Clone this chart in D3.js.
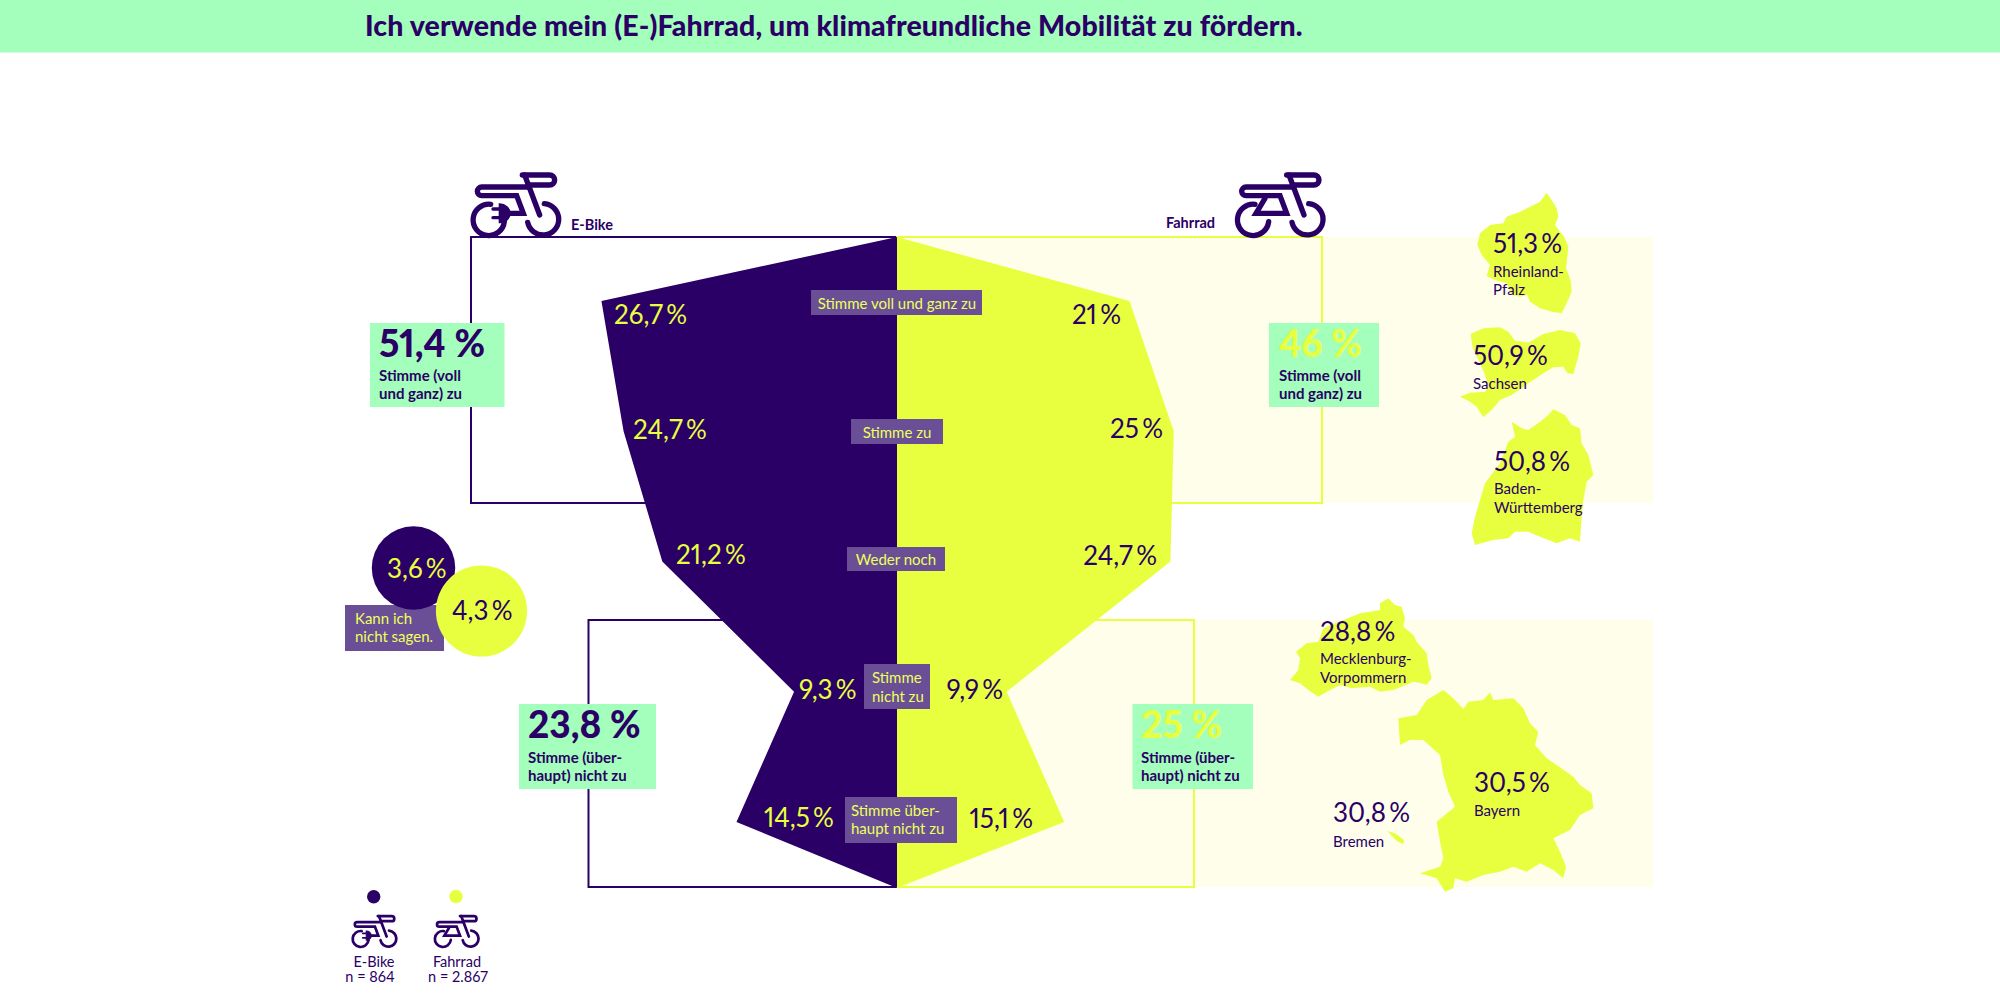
<!DOCTYPE html>
<html lang="de"><head><meta charset="utf-8">
<script src="https://cdn.jsdelivr.net/npm/d3@7"></script>
<style>html,body{margin:0;padding:0;background:#fff}svg{display:block}text{font-family:Lato,sans-serif;font-variant-numeric:proportional-nums;font-feature-settings:"pnum" 1}</style>
</head><body><div id="c"></div>
<script>
const titleText = "Ich verwende mein (E-)Fahrrad, um klimafreundliche Mobilität zu fördern.";
const categories = ["Stimme voll und ganz zu","Stimme zu","Weder noch","Stimme nicht zu","Stimme überhaupt nicht zu"];
const ebikeValues = [26.7,24.7,21.2,9.3,14.5];
const fahrradValues = [21,25,24.7,9.9,15.1];
const ebikeDontKnow = 3.6, fahrradDontKnow = 4.3;
const summaryAgree = [51.4,46], summaryDisagree = [23.8,25];
const nLabels = ["n = 864","n = 2.867"];

const DARK="#2a0066",YEL="#e8ff40",GREEN="#a3ffbb",PURPLE="#6a4f96",PALE="#fefeea",LBL="#eeff5c";
const svg=d3.select("#c").append("svg").attr("width",2000).attr("height",1000);
const fmt=v=>String(v).replace(".",",")+"\u2009%";
const xL=d3.scaleLinear().domain([0,30]).range([897,897-30*11.07]);
const xR=d3.scaleLinear().domain([0,30]).range([897,897+30*11.07]);
const y=d3.scaleLinear().domain([0,4]).range([301,822]);
const yTop=237,yBot=888;

function text(g,s,x,yy,o={}){
  return g.append("text").attr("x",x).attr("y",yy).text(s)
   .attr("fill",o.fill||DARK).attr("font-size",o.size||26).attr("font-weight",o.weight||400)
   .attr("text-anchor",o.anchor||"start").attr("letter-spacing",o.ls||null);
}
// header
svg.append("rect").attr("width",2000).attr("height",52.5).attr("fill",GREEN);
text(svg,titleText,365,36,{size:28.5,weight:900,ls:0.11});

// pale backgrounds and brackets
svg.append("rect").attr("x",897).attr("y",237).attr("width",756).attr("height",266).attr("fill",PALE);
svg.append("rect").attr("x",897).attr("y",620).attr("width",756).attr("height",267).attr("fill",PALE);
svg.append("rect").attr("x",471).attr("y",237).attr("width",426).attr("height",266).attr("fill","none").attr("stroke",DARK).attr("stroke-width",2);
svg.append("rect").attr("x",588.5).attr("y",620).attr("width",308).attr("height",267).attr("fill","none").attr("stroke",DARK).attr("stroke-width",2);
svg.append("rect").attr("x",897).attr("y",237).attr("width",425).attr("height",266).attr("fill","none").attr("stroke",YEL).attr("stroke-width",2);
svg.append("rect").attr("x",897).attr("y",620).attr("width",297).attr("height",267).attr("fill","none").attr("stroke",YEL).attr("stroke-width",2);

// silhouettes (outline points in crop coordinates, 3 units per pixel)
const shapeRLP=[[320,38],[335,60],[350,85],[355,110],[345,135],[372,170],[385,200],[382,230],[378,265],[392,300],[395,335],[380,370],[365,400],[335,395],[300,385],[270,365],[262,345],[240,350],[215,345],[200,310],[165,300],[140,288],[150,255],[125,225],[112,195],[120,160],[150,135],[190,130],[200,110],[240,95],[270,80],[300,65]];
const shapeSN=[[62,42],[100,25],[150,22],[175,35],[195,62],[235,68],[280,42],[330,30],[375,40],[392,70],[385,110],[370,162],[352,160],[340,140],[310,142],[280,160],[235,190],[185,225],[150,240],[130,265],[100,292],[80,260],[60,245],[30,230],[60,218],[105,215],[115,200],[105,165],[90,130],[68,85]];
const shapeBW=[[340,28],[375,45],[395,75],[420,85],[425,130],[445,165],[460,225],[440,245],[430,300],[425,350],[420,425],[390,415],[350,430],[300,410],[265,395],[225,395],[205,415],[160,420],[105,435],[95,400],[105,350],[120,300],[135,250],[180,190],[205,125],[225,110],[215,65],[245,85],[265,90],[300,65],[325,45]];
const shapeMV=[[325,40],[345,60],[365,65],[375,100],[370,125],[400,150],[410,170],[440,205],[445,240],[455,280],[440,300],[425,295],[400,290],[340,315],[300,320],[270,305],[215,310],[180,300],[150,315],[115,335],[85,315],[60,295],[30,285],[55,255],[60,220],[48,200],[80,175],[115,170],[130,130],[190,105],[240,85],[300,75],[300,55]];
const shapeBY=[[490,315],[520,340],[550,372],[565,350],[610,345],[630,322],[640,345],[700,340],[730,370],[750,415],[775,440],[765,480],[800,520],[830,540],[880,575],[900,600],[935,625],[940,670],[900,690],[870,735],[820,760],[840,800],[858,845],[850,880],[820,855],[780,835],[740,860],[700,845],[660,860],[610,870],[560,890],[525,880],[520,910],[495,920],[470,880],[420,865],[480,845],[490,820],[480,770],[470,710],[525,665],[505,620],[490,570],[480,510],[430,465],[390,465],[360,480],[355,400],[410,390],[440,345]];
const shapeHB=[[322,738],[345,745],[372,765],[370,778],[350,768]];
const states=[
 {pts:shapeRLP,o:[1440,180]},{pts:shapeSN,o:[1450,320]},{pts:shapeBW,o:[1440,400]},
 {pts:shapeMV,o:[1280,585]},{pts:shapeBY,o:[1280,585]},{pts:shapeHB,o:[1280,585]}];
const outline=d3.line().curve(d3.curveLinearClosed);
svg.selectAll("path.state").data(states).join("path").attr("class","state")
 .attr("transform",d=>`translate(${d.o[0]},${d.o[1]}) scale(${1/3})`)
 .attr("d",d=>outline(d.pts)).attr("fill",YEL);

// main polygons
const polyL=[[xL(0),yTop],...ebikeValues.map((v,i)=>[xL(v),y(i)]),[xL(0),yBot]];
const polyR=[[xR(0),yTop],...fahrradValues.map((v,i)=>[xR(v),y(i)]),[xR(0),yBot]];
svg.append("path").attr("d",d3.line()(polyR)+"Z").attr("fill",YEL);
svg.append("path").attr("d",d3.line()(polyL)+"Z").attr("fill",DARK);

// purple category labels
const catBoxes=[
 {b:[811,290,171,25],l:["Stimme voll und ganz zu"],x:897,a:"middle",y:[309]},
 {b:[851,419,92,25],l:["Stimme zu"],x:897,a:"middle",y:[438]},
 {b:[847,547,98,24],l:["Weder noch"],x:896,a:"middle",y:[565]},
 {b:[864,664,66,45],l:["Stimme","nicht zu"],x:872,a:"start",y:[683,702]},
 {b:[845,797,112,46],l:["Stimme über-","haupt nicht zu"],x:851,a:"start",y:[816,834]}];
catBoxes.forEach(c=>{
 svg.append("rect").attr("x",c.b[0]).attr("y",c.b[1]).attr("width",c.b[2]).attr("height",c.b[3]).attr("fill",PURPLE);
 c.l.forEach((t,i)=>text(svg,t,c.x,c.y[i],{size:15,fill:LBL,anchor:c.a}));
});

// value labels
const lX=[614,633,676,799,764], lY=[324,439,564,699,827];
ebikeValues.forEach((v,i)=>text(svg,fmt(v),lX[i],lY[i],{fill:YEL}));
const rX=[1121,1163,1157,1003,1033], rY=[324,438,565,699,828];
fahrradValues.forEach((v,i)=>text(svg,fmt(v),rX[i],rY[i],{anchor:"end"}));

// don't-know bubbles
const rs=d3.scaleSqrt().domain([0,4.3]).range([0,45.6]);
svg.append("rect").attr("x",345).attr("y",605).attr("width",99).attr("height",46).attr("fill",PURPLE);
text(svg,"Kann ich",355,624,{size:15,fill:LBL});
text(svg,"nicht sagen.",355,642,{size:15,fill:LBL});
svg.append("circle").attr("cx",413.5).attr("cy",568).attr("r",rs(ebikeDontKnow)).attr("fill",DARK);
svg.append("circle").attr("cx",481.5).attr("cy",611).attr("r",rs(fahrradDontKnow)).attr("fill",YEL);
text(svg,fmt(ebikeDontKnow),387,578,{fill:YEL});
text(svg,fmt(fahrradDontKnow),452,620);

// green summary boxes
const fmtBig=v=>String(v).replace(".",",")+" %";
const greens=[
 {b:[370,323,134.5,84],x:379,v:summaryAgree[0],f:DARK,l:["Stimme (voll","und ganz) zu"],y:[357,381,399]},
 {b:[1269,323,110,84],x:1279,v:summaryAgree[1],f:YEL,l:["Stimme (voll","und ganz) zu"],y:[357,381,399]},
 {b:[519,704,137,85],x:528,v:summaryDisagree[0],f:DARK,l:["Stimme (über-","haupt) nicht zu"],y:[738,763,781]},
 {b:[1132.5,704,120.5,85],x:1141,v:summaryDisagree[1],f:YEL,l:["Stimme (über-","haupt) nicht zu"],y:[738,763,781]}];
greens.forEach(g=>{
 svg.append("rect").attr("x",g.b[0]).attr("y",g.b[1]).attr("width",g.b[2]).attr("height",g.b[3]).attr("fill",GREEN);
 text(svg,fmtBig(g.v),g.x,g.y[0],{size:37,weight:900,fill:g.f});
 g.l.forEach((t,i)=>text(svg,t,g.x,g.y[i+1],{size:15,weight:700}));
});

// bike icons (drawn in crop coordinates, 3 units per pixel)
function bike(x,yy,s,electric){
 const g=svg.append("g").attr("transform",`translate(${x},${yy}) scale(${s})`)
  .attr("fill","none").attr("stroke",DARK).attr("stroke-width",16).attr("stroke-linecap","round").attr("stroke-linejoin","miter");
 const dx=electric?-13:0;
 const p=d=>g.append("path").attr("d",d).attr("transform",`translate(${dx},0)`);
 p("M105 118 A47 47 0 1 0 146 170");
 p("M266 116 A47 47 0 1 1 216 172");
 p("M200 30 H282 A15 15 0 0 1 282 60 H218");
 p("M207 30 L252 150");
 if(electric){
  p("M218 66 H78 A13 13 0 0 0 78 92 H183 L203 145 H165");
  p("M132 118 V172 A30 27 0 0 0 132 118 Z").attr("fill",DARK).attr("stroke-width",6);
  p("M112 132 H130 M112 158 H130").attr("stroke-width",10);
 } else {
  p("M218 66 H78 A13 13 0 0 0 78 92 H180 L200 145 H108 L135 100");
 }
}
bike(1220,165,1/3,false);
bike(460,165,1/3,true);
bike(346,911,0.17,true);
bike(426,911,0.17,false);
text(svg,"E-Bike",571,230,{size:14.5,weight:700});
text(svg,"Fahrrad",1166,228,{size:14.5,weight:700});

// legend
svg.append("circle").attr("cx",373.7).attr("cy",896.7).attr("r",6.7).attr("fill",DARK);
svg.append("circle").attr("cx",456).attr("cy",896.5).attr("r",6.7).attr("fill",YEL);
text(svg,"E-Bike",374,967,{size:14.5,anchor:"middle"});
text(svg,nLabels[0],370,982,{size:14.5,anchor:"middle"});
text(svg,"Fahrrad",457,967,{size:14.5,anchor:"middle"});
text(svg,nLabels[1],458,982,{size:14.5,anchor:"middle"});

// state labels
const stateNames=[["Rheinland-","Pfalz"],["Sachsen"],["Baden-","Württemberg"],["Mecklenburg-","Vorpommern"],["Bayern"],["Bremen"]];
const stateValues=[51.3,50.9,50.8,28.8,30.5,30.8];
const stX=[1493,1473,1494,1320,1474,1333], stVY=[253,365,471,641,792,822];
const stNY=[[277,295],[389],[494,513],[664,683],[816],[847]];
stateValues.forEach((v,i)=>{
 text(svg,fmt(v),stX[i],stVY[i]);
 stateNames[i].forEach((t,j)=>text(svg,t,stX[i],stNY[i][j],{size:15}));
});
</script></body></html>
